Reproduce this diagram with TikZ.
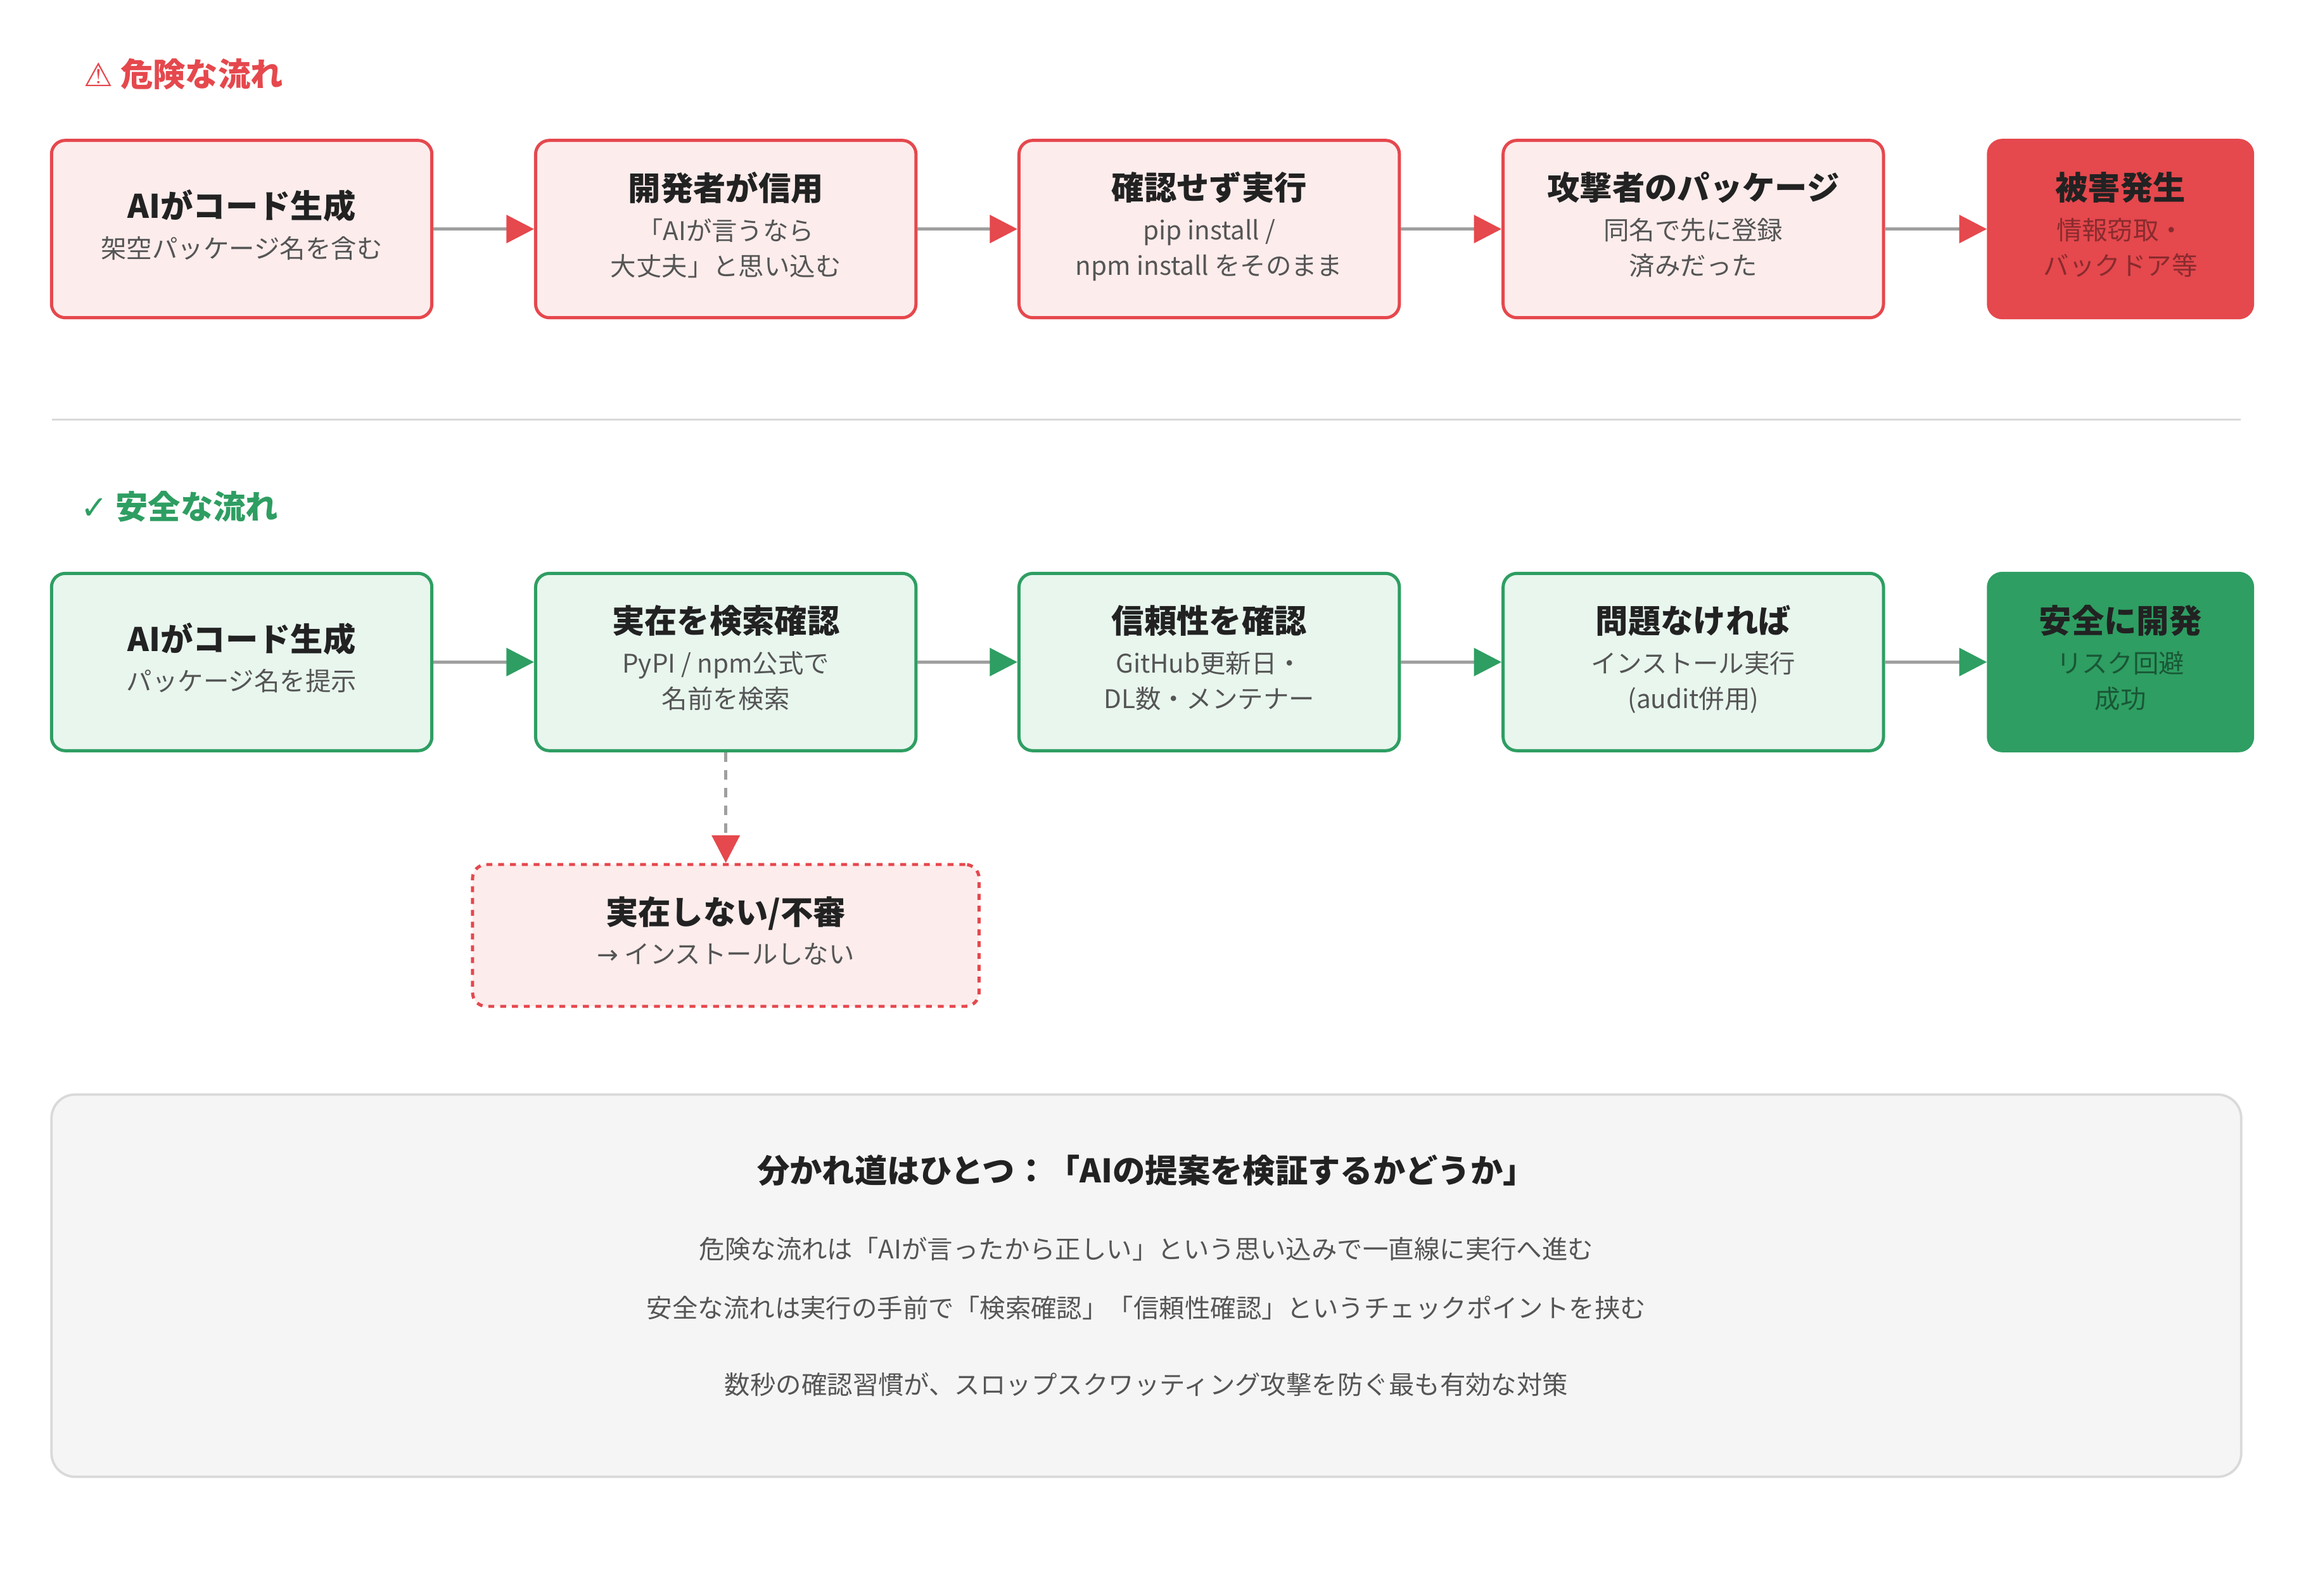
\documentclass[tikz,border=0pt]{standalone}
\usepackage{fontspec}
\setmainfont{Noto Sans CJK JP}
\newfontfamily\sym{DejaVu Sans}
\usetikzlibrary{arrows.meta}
\definecolor{rd}{HTML}{E5484D}
\definecolor{rdf}{HTML}{FDECEC}
\definecolor{gn}{HTML}{2E9E62}
\definecolor{gnf}{HTML}{E8F6EE}
\definecolor{tx}{HTML}{222222}
\definecolor{st}{HTML}{555555}
\newcommand\myt{\fontsize{16.5}{20}\selectfont\bfseries}
\newcommand\mys{\fontsize{13}{18}\selectfont}
\newcommand\bx[3]{\begin{tabular}{@{}c@{}}{\myt\color{tx}#1}\\[4pt]\mys\color{#3}\begin{tabular}{@{}c@{}}#2\end{tabular}\end{tabular}}
\begin{document}
\begin{tikzpicture}[x=0.75pt,y=-0.75pt,
  box/.style={draw,line width=1.6pt,rounded corners=7pt,align=center,minimum height=90pt,inner sep=0pt},
  rbox/.style={box,draw=rd,fill=rdf},
  gbox/.style={box,draw=gn,fill=gnf},
  ra/.style={draw=gray!75,line width=1.8pt,-{Triangle[length=14pt,width=14pt,color=rd]}},
  ga/.style={draw=gray!75,line width=1.8pt,-{Triangle[length=14pt,width=14pt,color=gn]}}]
\useasboundingbox (0,0) rectangle (1560,1080);
\fill[white] (0,0) rectangle (1560,1080);
\node[anchor=west,text=rd,font=\myt] (h1) at (52,50) {{\sym ⚠} 危険な流れ};
\node[anchor=west,text=gn,font=\myt] (h2) at (50,343) {{\sym ✓} 安全な流れ};
\draw[gray!30,line width=1pt] (35,284) -- (1516,284);
% top row
\node[rbox,minimum width=193pt] (a1) at (163.5,155) {\bx{AIがコード生成}{架空パッケージ名を含む}{st}};
\node[rbox,minimum width=193pt] (a2) at (491,155) {\bx{開発者が信用}{「AIが言うなら\\大丈夫」と思い込む}{st}};
\node[rbox,minimum width=193pt] (a3) at (818,155) {\bx{確認せず実行}{pip install /\\npm install をそのまま}{st}};
\node[rbox,minimum width=193pt] (a4) at (1145.5,155) {\bx{攻撃者のパッケージ}{同名で先に登録\\済みだった}{st}};
\node[box,draw=rd,fill=rd,minimum width=134pt] (a5) at (1434.5,155) {\bx{被害発生}{情報窃取・\\バックドア等}{rd!60!black}};
\draw[ra] (a1) -- (a2); \draw[ra] (a2) -- (a3); \draw[ra] (a3) -- (a4); \draw[ra] (a4) -- (a5);
% bottom row
\node[gbox,minimum width=193pt] (b1) at (163.5,448) {\bx{AIがコード生成}{パッケージ名を提示}{st}};
\node[gbox,minimum width=193pt] (b2) at (491,448) {\bx{実在を検索確認}{PyPI / npm公式で\\名前を検索}{st}};
\node[gbox,minimum width=193pt] (b3) at (818,448) {\bx{信頼性を確認}{GitHub更新日・\\DL数・メンテナー}{st}};
\node[gbox,minimum width=193pt] (b4) at (1145.5,448) {\bx{問題なければ}{インストール実行\\(audit併用)}{st}};
\node[box,draw=gn,fill=gn,minimum width=134pt] (b5) at (1434.5,448) {\bx{安全に開発}{リスク回避\\成功}{gn!55!black}};
\draw[ga] (b1) -- (b2); \draw[ga] (b2) -- (b3); \draw[ga] (b3) -- (b4); \draw[ga] (b4) -- (b5);
% dashed
\node[box,draw=rd,fill=rdf,dashed,minimum width=257pt,minimum height=72pt] (c) at (491,633) {\bx{実在しない/不審}{{\sym →} インストールしない}{st}};
\draw[gray!75,line width=1.8pt,dash pattern=on 5pt off 4pt,-{Triangle[length=14pt,width=14pt,color=rd]}] (b2) -- (c);
% summary
\node[draw=gray!30,fill=gray!8,line width=1.2pt,rounded corners=12pt,minimum width=1111pt,minimum height=194pt] (s) at (775.5,870) {};
\node[font=\myt,text=tx] (s1) at (775.5,792) {分かれ道はひとつ：「AIの提案を検証するかどうか」};
\node[font=\mys,text=st] (s2) at (775.5,845) {危険な流れは「AIが言ったから正しい」という思い込みで一直線に実行へ進む};
\node[font=\mys,text=st] (s3) at (775.5,885) {安全な流れは実行の手前で「検索確認」「信頼性確認」というチェックポイントを挟む};
\node[font=\mys,text=st] (s4) at (775.5,937) {数秒の確認習慣が、スロップスクワッティング攻撃を防ぐ最も有効な対策};
\end{tikzpicture}
\end{document}
